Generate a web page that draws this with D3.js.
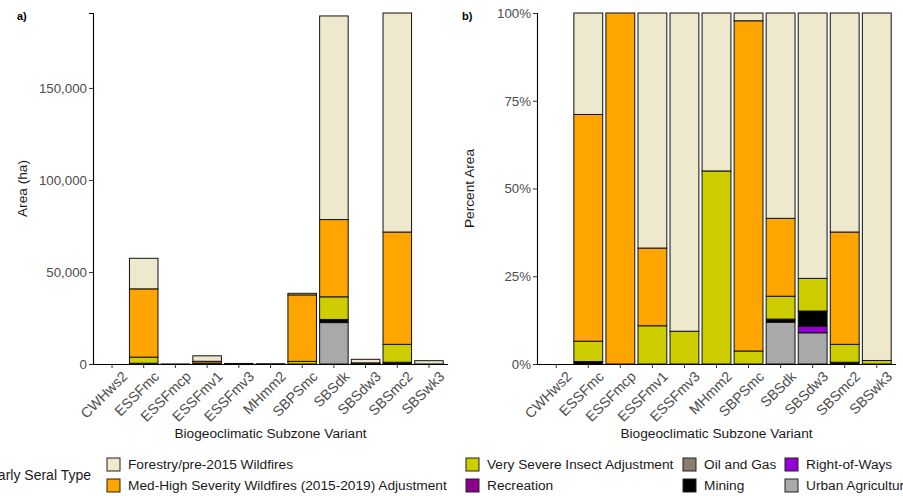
<!DOCTYPE html>
<html>
<head>
<meta charset="utf-8">
<script src="https://cdn.jsdelivr.net/npm/d3@7"></script>
<style>
  html, body { margin: 0; padding: 0; background: #fff; }
  svg { display: block; font-family: "Liberation Sans", Arial, sans-serif; }
</style>
</head>
<body>
<svg id="chart" width="903" height="496"></svg>
<script>
// Biogeoclimatic subzone variants along the x axis
const categories = ["CWHws2", "ESSFmc", "ESSFmcp", "ESSFmv1", "ESSFmv3", "MHmm2",
                    "SBPSmc", "SBSdk", "SBSdw3", "SBSmc2", "SBSwk3"];

// Early seral types (legend order; first type sits on top of each stack)
const seralTypes = ["Forestry/pre-2015 Wildfires",
                    "Med-High Severity Wildfires (2015-2019) Adjustment",
                    "Very Severe Insect Adjustment", "Recreation", "Oil and Gas",
                    "Mining", "Right-of-Ways", "Urban Agriculture"];
const seralColors = ["#EEE8CD", "#FFA500", "#CDCD00", "#8B008B", "#8B7D6B",
                     "#000000", "#9400D3", "#A9A9A9"];

// Area (ha) of each seral type, one value per subzone variant
const forestry   = [0, 16600, 0, 2980, 272, 27, 850, 110620, 1928, 119000, 1782];
const medHigh    = [0, 37100, 40, 985, 0, 0, 36130, 41980, 0, 61020, 0];
const insect     = [0, 3330, 0, 485, 28, 33, 1420, 12300, 237, 9730, 18];
const recreation = [0, 0, 0, 0, 0, 0, 0, 0, 0, 0, 0];
const oilGas     = [0, 0, 0, 0, 0, 0, 0, 0, 0, 0, 0];
const mining     = [0, 400, 0, 0, 0, 0, 0, 1700, 110, 950, 0];
const rightOfWay = [0, 0, 0, 0, 0, 0, 0, 0, 48, 0, 0];
const urbanAg    = [0, 0, 0, 0, 0, 0, 0, 22500, 227, 0, 0];

// Tick labels
const areaTicks = [0, 50000, 100000, 150000];
const pctTicks = [0, 0.25, 0.5, 0.75, 1];

const seriesValues = [forestry, medHigh, insect, recreation, oilGas, mining, rightOfWay, urbanAg];

// Build row table for d3.stack
const rows = categories.map((c, i) => {
  const r = { cat: c };
  seralTypes.forEach((t, j) => { r[t] = seriesValues[j][i]; });
  r.total = d3.sum(seriesValues, s => s[i]);
  return r;
});
const pctRows = rows.map(r => {
  const o = { cat: r.cat, total: r.total };
  seralTypes.forEach(t => { o[t] = r.total > 0 ? r[t] / r.total : 0; });
  return o;
});

// stack bottom-up: last legend entry at the bottom
const stackKeys = seralTypes.slice().reverse();
const stacker = d3.stack().keys(stackKeys);
const color = d3.scaleOrdinal().domain(seralTypes).range(seralColors);

const svg = d3.select("#chart");
const plotTop = 13, plotBottom = 364;
const textSize = "13.7px";

function panel(opts) {
  const g = svg.append("g");
  const x = d3.scaleBand().domain(categories).range([opts.x0, opts.x1])
    .paddingInner(0.1).paddingOuter(0.15);
  const y = d3.scaleLinear().domain(opts.domain).range([plotBottom, plotTop]);

  const stacked = stacker(opts.data);
  g.selectAll("g.layer").data(stacked).join("g")
    .attr("class", "layer")
    .attr("fill", d => color(d.key))
    .selectAll("rect").data(d => d.filter(p => p.data.total > 0 && p[1] - p[0] > 0)).join("rect")
    .attr("x", d => x(d.data.cat))
    .attr("width", x.bandwidth())
    .attr("y", d => y(d[1]))
    .attr("height", d => Math.max(0, y(d[0]) - y(d[1])))
    .attr("stroke", "#111")
    .attr("stroke-width", 1);

  // y axis
  const ya = g.append("g").attr("transform", `translate(${opts.x0},0)`)
    .call(d3.axisLeft(y).tickValues(opts.ticks).tickFormat(opts.fmt).tickSize(4).tickPadding(2));
  ya.attr("font-size", null).attr("font-family", null);
  ya.select(".domain").attr("stroke", "#000").attr("stroke-width", 1.1);
  ya.selectAll(".tick line").attr("stroke", "#333");
  ya.selectAll(".tick text").attr("fill", "#4D4D4D").style("font-size", "13.3px");

  // x axis
  const xa = g.append("g").attr("transform", `translate(0,${plotBottom})`)
    .call(d3.axisBottom(x).tickSize(4).tickPadding(2));
  xa.attr("font-size", null).attr("font-family", null);
  xa.select(".domain").attr("d", `M${opts.x0},0.5H${opts.x1}`)
    .attr("stroke", "#000").attr("stroke-width", 1.1);
  xa.selectAll(".tick line").attr("stroke", "#333");
  xa.selectAll(".tick text")
    .attr("fill", "#4D4D4D").style("font-size", "14.2px")
    .attr("text-anchor", "end")
    .attr("transform", "translate(5,2) rotate(-45)")
    .attr("x", 0).attr("y", 6).attr("dy", "0.71em");

  // axis titles
  g.append("text").attr("x", (opts.x0 + opts.x1) / 2).attr("y", 438)
    .attr("text-anchor", "middle").style("font-size", textSize).attr("fill", "#1a1a1a")
    .text("Biogeoclimatic Subzone Variant");
  g.append("text").attr("transform", `translate(${opts.titleX},${(plotTop + plotBottom) / 2}) rotate(-90)`)
    .attr("text-anchor", "middle").style("font-size", textSize).attr("fill", "#1a1a1a")
    .text(opts.yTitle);

  // panel tag
  g.append("text").attr("x", opts.tagX).attr("y", 20)
    .style("font-size", "11px").style("font-weight", "bold").text(opts.tag);
}

panel({
  x0: 93, x1: 448, data: rows,
  domain: [0, d3.max(rows, r => r.total)],
  ticks: areaTicks, fmt: d3.format(","),
  yTitle: "Area (ha)", titleX: 27, tag: "a)", tagX: 17
});
panel({
  x0: 537, x1: 896, data: pctRows,
  domain: [0, 1],
  ticks: pctTicks, fmt: d3.format(".0%"),
  yTitle: "Percent Area", titleX: 474, tag: "b)", tagX: 462
});

// legend
const leg = svg.append("g");
leg.append("text").attr("x", 91).attr("y", 480).attr("text-anchor", "end")
  .style("font-size", "14px").attr("fill", "#1a1a1a").text("Early Seral Type");
const colX = [107, 466, 683, 785];
const rowY = [458, 479];
seralTypes.forEach((t, i) => {
  const cx = colX[Math.floor(i / 2)], cy = rowY[i % 2];
  leg.append("rect").attr("x", cx).attr("y", cy).attr("width", 13).attr("height", 13)
    .attr("fill", color(t)).attr("stroke", "#222").attr("stroke-width", 1);
  leg.append("text").attr("x", cx + 21).attr("y", cy + 11)
    .style("font-size", textSize).attr("fill", "#1a1a1a").text(t);
});
</script>
</body>
</html>
